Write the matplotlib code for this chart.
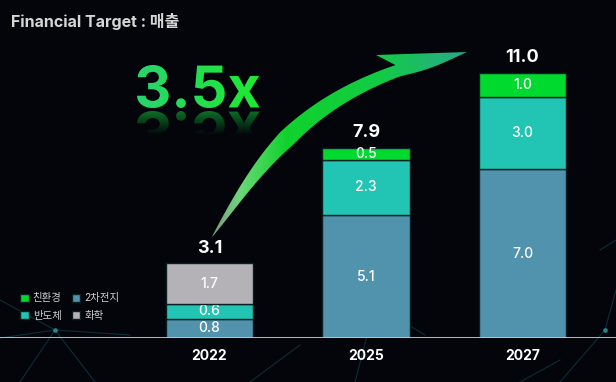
import numpy as np
import matplotlib.pyplot as plt
from matplotlib.colors import to_rgb
from matplotlib.patches import PathPatch, Polygon
from matplotlib.textpath import TextPath
from matplotlib.font_manager import FontProperties
from matplotlib.transforms import Affine2D

plt.rcParams['font.family'] = ['Inter', 'Noto Sans CJK KR', 'DejaVu Sans']

# data (조 원)
years = ['2022', '2025', '2027']
battery = [0.8, 5.1, 7.0]   # 2차전지
semi = [0.6, 2.3, 3.0]      # 반도체
eco = [0.0, 0.5, 1.0]       # 친환경
chem = [1.7, 0.0, 0.0]      # 화학
totals = [3.1, 7.9, 11.0]
series_names = ['2차전지', '반도체', '친환경', '화학']
colors = ['#5192ad', '#22c5b3', '#00d92e', '#b5b2b7']
growth = '3.5x'

W, H = 616, 382
fig = plt.figure(figsize=(W / 100, H / 100), dpi=100)
fig.patch.set_facecolor('#03050a')

# faint network lines in the background
bg = fig.add_axes([0, 0, 1, 1], zorder=-1)
bg.set_xlim(0, W)
bg.set_ylim(H, 0)
bg.axis('off')
net = [((0, 300), (55, 330)), ((55, 330), (95, 382)), ((0, 338), (55, 330)),
       ((55, 330), (130, 335)), ((20, 382), (55, 330)), ((375, 305), (340, 265)),
       ((375, 305), (425, 335)), ((375, 305), (355, 382)), ((375, 305), (335, 330)),
       ((560, 382), (605, 330)), ((605, 330), (616, 290)), ((520, 382), (560, 360)),
       ((250, 382), (300, 345)), ((600, 250), (616, 240))]
for (x0, y0), (x1, y1) in net:
    bg.plot([x0, x1], [y0, y1], color='#1d8c9c', lw=0.8, alpha=0.3)
bg.scatter([55, 375, 605], [330, 305, 330], s=6, color='#3fd0e0', alpha=0.5)

# bars
base_px = 338
px_per_unit = 24.1
ax = fig.add_axes([0, (H - base_px) / H, 1, base_px / H])
ax.set_facecolor('none')

x = np.arange(len(years))
bottom = np.zeros(len(years))
handles = {}
for name, vals, c in zip(series_names, [battery, semi, eco, chem], colors):
    vals = np.array(vals)
    keep = vals > 0
    bars = ax.bar(x[keep], vals[keep], 0.556, bottom=bottom[keep], color=c,
                  edgecolor='#0c2024', linewidth=1, zorder=3)
    ax.bar_label(bars, labels=[f'{v:.1f}' for v in vals[keep]], label_type='center',
                 color='white', fontsize=10, fontweight='medium')
    handles[name] = bars
    bottom += vals

for xi, top, t in zip(x, bottom, totals):
    ax.annotate(f'{t:.1f}', (xi, top), xytext=(0, 7.5), textcoords='offset points',
                ha='center', va='baseline', fontsize=13, fontweight='bold', color='white')

ax.axhline(0, color='#c9c9c9', lw=1.3, zorder=5)
ax.set_xlim(-209.5 / 156.5, (W - 209.5) / 156.5)
ax.set_ylim(0, base_px / px_per_unit)
ax.set_xticks(x, years)
ax.set_yticks([])
ax.tick_params(axis='x', length=0, pad=8, colors='white', labelsize=10)
for lbl in ax.get_xticklabels():
    lbl.set_fontweight('bold')
for s in ax.spines.values():
    s.set_visible(False)

order = ['친환경', '반도체', '2차전지', '화학']
ax.legend([handles[n] for n in order], order, ncol=2, loc='upper left',
          bbox_to_anchor=(15 / W, 1 - 288 / H), bbox_transform=fig.transFigure,
          frameon=False, fontsize=7.5, labelcolor='#d0d0d0', handlelength=0.8,
          handleheight=0.8, handletextpad=0.4, columnspacing=1.0,
          labelspacing=0.75, borderpad=0)

# decorations: title, growth text, arrow
deco = fig.add_axes([0, 0, 1, 1], zorder=5)
deco.axis('off')
deco.text(11, 22, 'Financial Target : 매출', ha='left', va='center',
          fontsize=11.5, fontweight='bold', color='#d6d6d6')


def ramp(stops, n=256):
    pos = np.array([p for p, _, _ in stops])
    rgba = np.array([list(to_rgb(c)) + [a] for _, c, a in stops])
    t = np.linspace(pos[0], pos[-1], n)
    return np.stack([np.interp(t, pos, rgba[:, k]) for k in range(4)], axis=-1)


fp = FontProperties(family='Inter', weight='bold')
tp = TextPath((0, 0), growth, size=50, prop=fp)
ext = tp.get_extents()
sc = 43 / ext.height
main_path = (Affine2D().translate(-ext.x0, -ext.y0).scale(sc, -sc)
             .translate(137, 108).transform_path(tp))
refl_path = (Affine2D().translate(-ext.x0, -ext.y0).scale(sc, sc)
             .translate(137, 111).transform_path(tp))
tw = ext.width * sc

img = ramp([(0, '#2ad46e', 1), (1, '#1eea30', 1)])[None, :, :]
im = deco.imshow(img, extent=(137, 137 + tw, 108, 65), aspect='auto', interpolation='bilinear')
im.set_clip_path(PathPatch(main_path, transform=deco.transData))

img = ramp([(0, '#12b83a', 0.6), (1, '#12b83a', 0.0)])[:, None, :]
im = deco.imshow(img, extent=(137, 137 + tw, 135, 111), aspect='auto',
                 interpolation='bilinear', origin='upper')
im.set_clip_path(PathPatch(refl_path, transform=deco.transData))

# curved arrow
P = np.array([[212, 237], [262, 162], [305, 84], [467, 52]], float)
t = np.linspace(0, 1, 200)[:, None]
C = ((1 - t) ** 3 * P[0] + 3 * (1 - t) ** 2 * t * P[1]
     + 3 * (1 - t) * t ** 2 * P[2] + t ** 3 * P[3])
D = 3 * ((1 - t) ** 2 * (P[1] - P[0]) + 2 * (1 - t) * t * (P[2] - P[1])
         + t ** 2 * (P[3] - P[2]))
U = D / np.linalg.norm(D, axis=1, keepdims=True)
N = np.column_stack([U[:, 1], -U[:, 0]])
tt = t[:, 0]
w = np.where(tt < 0.45, 18 * (tt / 0.45) ** 0.8, 18 - 6 * (tt - 0.45) / 0.4)
tb = 0.84
ib = np.searchsorted(tt, tb)
upper = C[:ib] + N[:ib] * w[:ib, None] / 2
h_low = np.where(tt <= tb, w / 2,
                 w[ib] / 2 * (1 - tt) / (1 - tb) + 4 * np.sin(np.pi * (tt - tb) / (1 - tb)))
lower = C - N * h_low[:, None]
corner = upper[-1]
barb = corner + N[ib] * 16 - U[ib] * 15
pts = np.vstack([upper, barb, C[-1], lower[::-1]])
arrow = Polygon(pts, closed=True, transform=deco.transData)

img = ramp([(212, '#cfe8d0', 0.55), (245, '#6cd878', 1), (290, '#10d22c', 1),
            (380, '#12cc44', 1), (467, '#2aa890', 1)])[None, :, :]
im = deco.imshow(img, extent=(205, 470, 240, 40), aspect='auto', interpolation='bilinear')
im.set_clip_path(arrow)

deco.set_xlim(0, W)
deco.set_ylim(H, 0)

fig.savefig('out.png', dpi=100, facecolor=fig.get_facecolor())
